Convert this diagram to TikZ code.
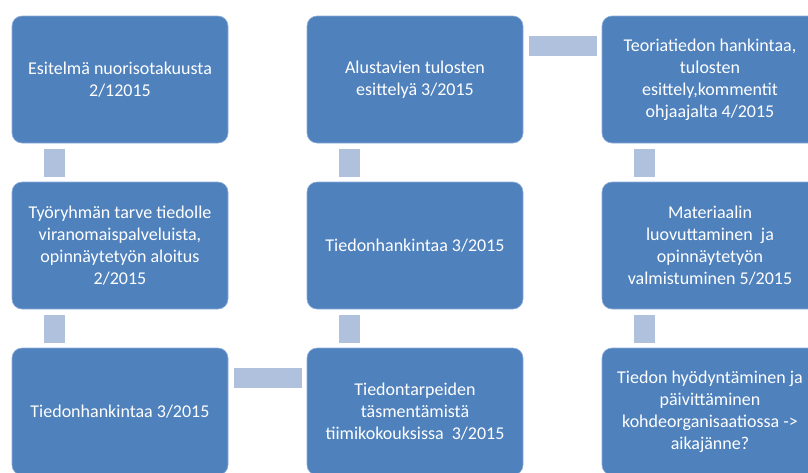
\documentclass[tikz,border=0pt]{standalone}
\usepackage{fontspec}
\setmainfont{Carlito}
\usetikzlibrary{calc}
\definecolor{boxblue}{HTML}{4F81BD}
\definecolor{boxedge}{HTML}{8FAEDB}
\definecolor{connblue}{HTML}{B0C1DD}
\tikzset{
  stepbox/.style={rectangle, rounded corners=10pt, fill=boxblue, draw=boxedge, line width=0.6pt,
    minimum width=216pt, minimum height=127pt, inner sep=0pt, align=center, text=white,
    font=\fontsize{18pt}{22pt}\selectfont},
  vconn/.style={rectangle, fill=connblue, draw=none, minimum width=21pt, minimum height=28pt, inner sep=0pt},
  hconn/.style={rectangle, fill=connblue, draw=none, minimum width=68pt, minimum height=20pt, inner sep=0pt}
}
\begin{document}
\begin{tikzpicture}[x=1pt,y=-1pt]
\useasboundingbox (0,0) rectangle (808,472);
\clip (0,0) rectangle (808,472);
\node[stepbox] (b1) at (120,79.5) {Esitelmä nuorisotakuusta\\2/12015};
\node[stepbox] (b2) at (120,245.5) {Työryhmän tarve tiedolle\\viranomaispalveluista,\\opinnäytetyön aloitus\\2/2015};
\node[stepbox] (b3) at (120,411.5) {Tiedonhankintaa 3/2015};
\node[stepbox] (b4) at (415,411.5) {Tiedontarpeiden\\täsmentämistä\\tiimikokouksissa\ \ 3/2015};
\node[stepbox] (b5) at (415,245.5) {Tiedonhankintaa 3/2015};
\node[stepbox] (b6) at (415,79.5) {Alustavien tulosten\\esittelyä 3/2015};
\node[stepbox] (b7) at (710,79.5) {Teoriatiedon hankintaa,\\tulosten\\esittely,kommentit\\ohjaajalta 4/2015};
\node[stepbox] (b8) at (710,245.5) {Materiaalin\\luovuttaminen\ \ ja\\opinnäytetyön\\valmistuminen 5/2015};
\node[stepbox] (b9) at (710,411.5) {Tiedon hyödyntäminen ja\\päivittäminen\\kohdeorganisaatiossa ->\\aikajänne?};
% connectors
\node[vconn] (c12) at ($(b1.south west)!0.5!(b2.north west)+(42.5,0)$) {};
\node[vconn] (c23) at ($(b2.south west)!0.5!(b3.north west)+(42.5,0)$) {};
\node[hconn] (c34) at ($(b3.north east)!0.5!(b4.north west)+(0,30.5)$) {};
\node[vconn] (c45) at ($(b5.south west)!0.5!(b4.north west)+(42.5,0)$) {};
\node[vconn] (c56) at ($(b6.south west)!0.5!(b5.north west)+(42.5,0)$) {};
\node[hconn] (c67) at ($(b6.north east)!0.5!(b7.north west)+(0,30)$) {};
\node[vconn] (c78) at ($(b7.south west)!0.5!(b8.north west)+(42.5,0)$) {};
\node[vconn] (c89) at ($(b8.south west)!0.5!(b9.north west)+(42.5,0)$) {};
\end{tikzpicture}
\end{document}
